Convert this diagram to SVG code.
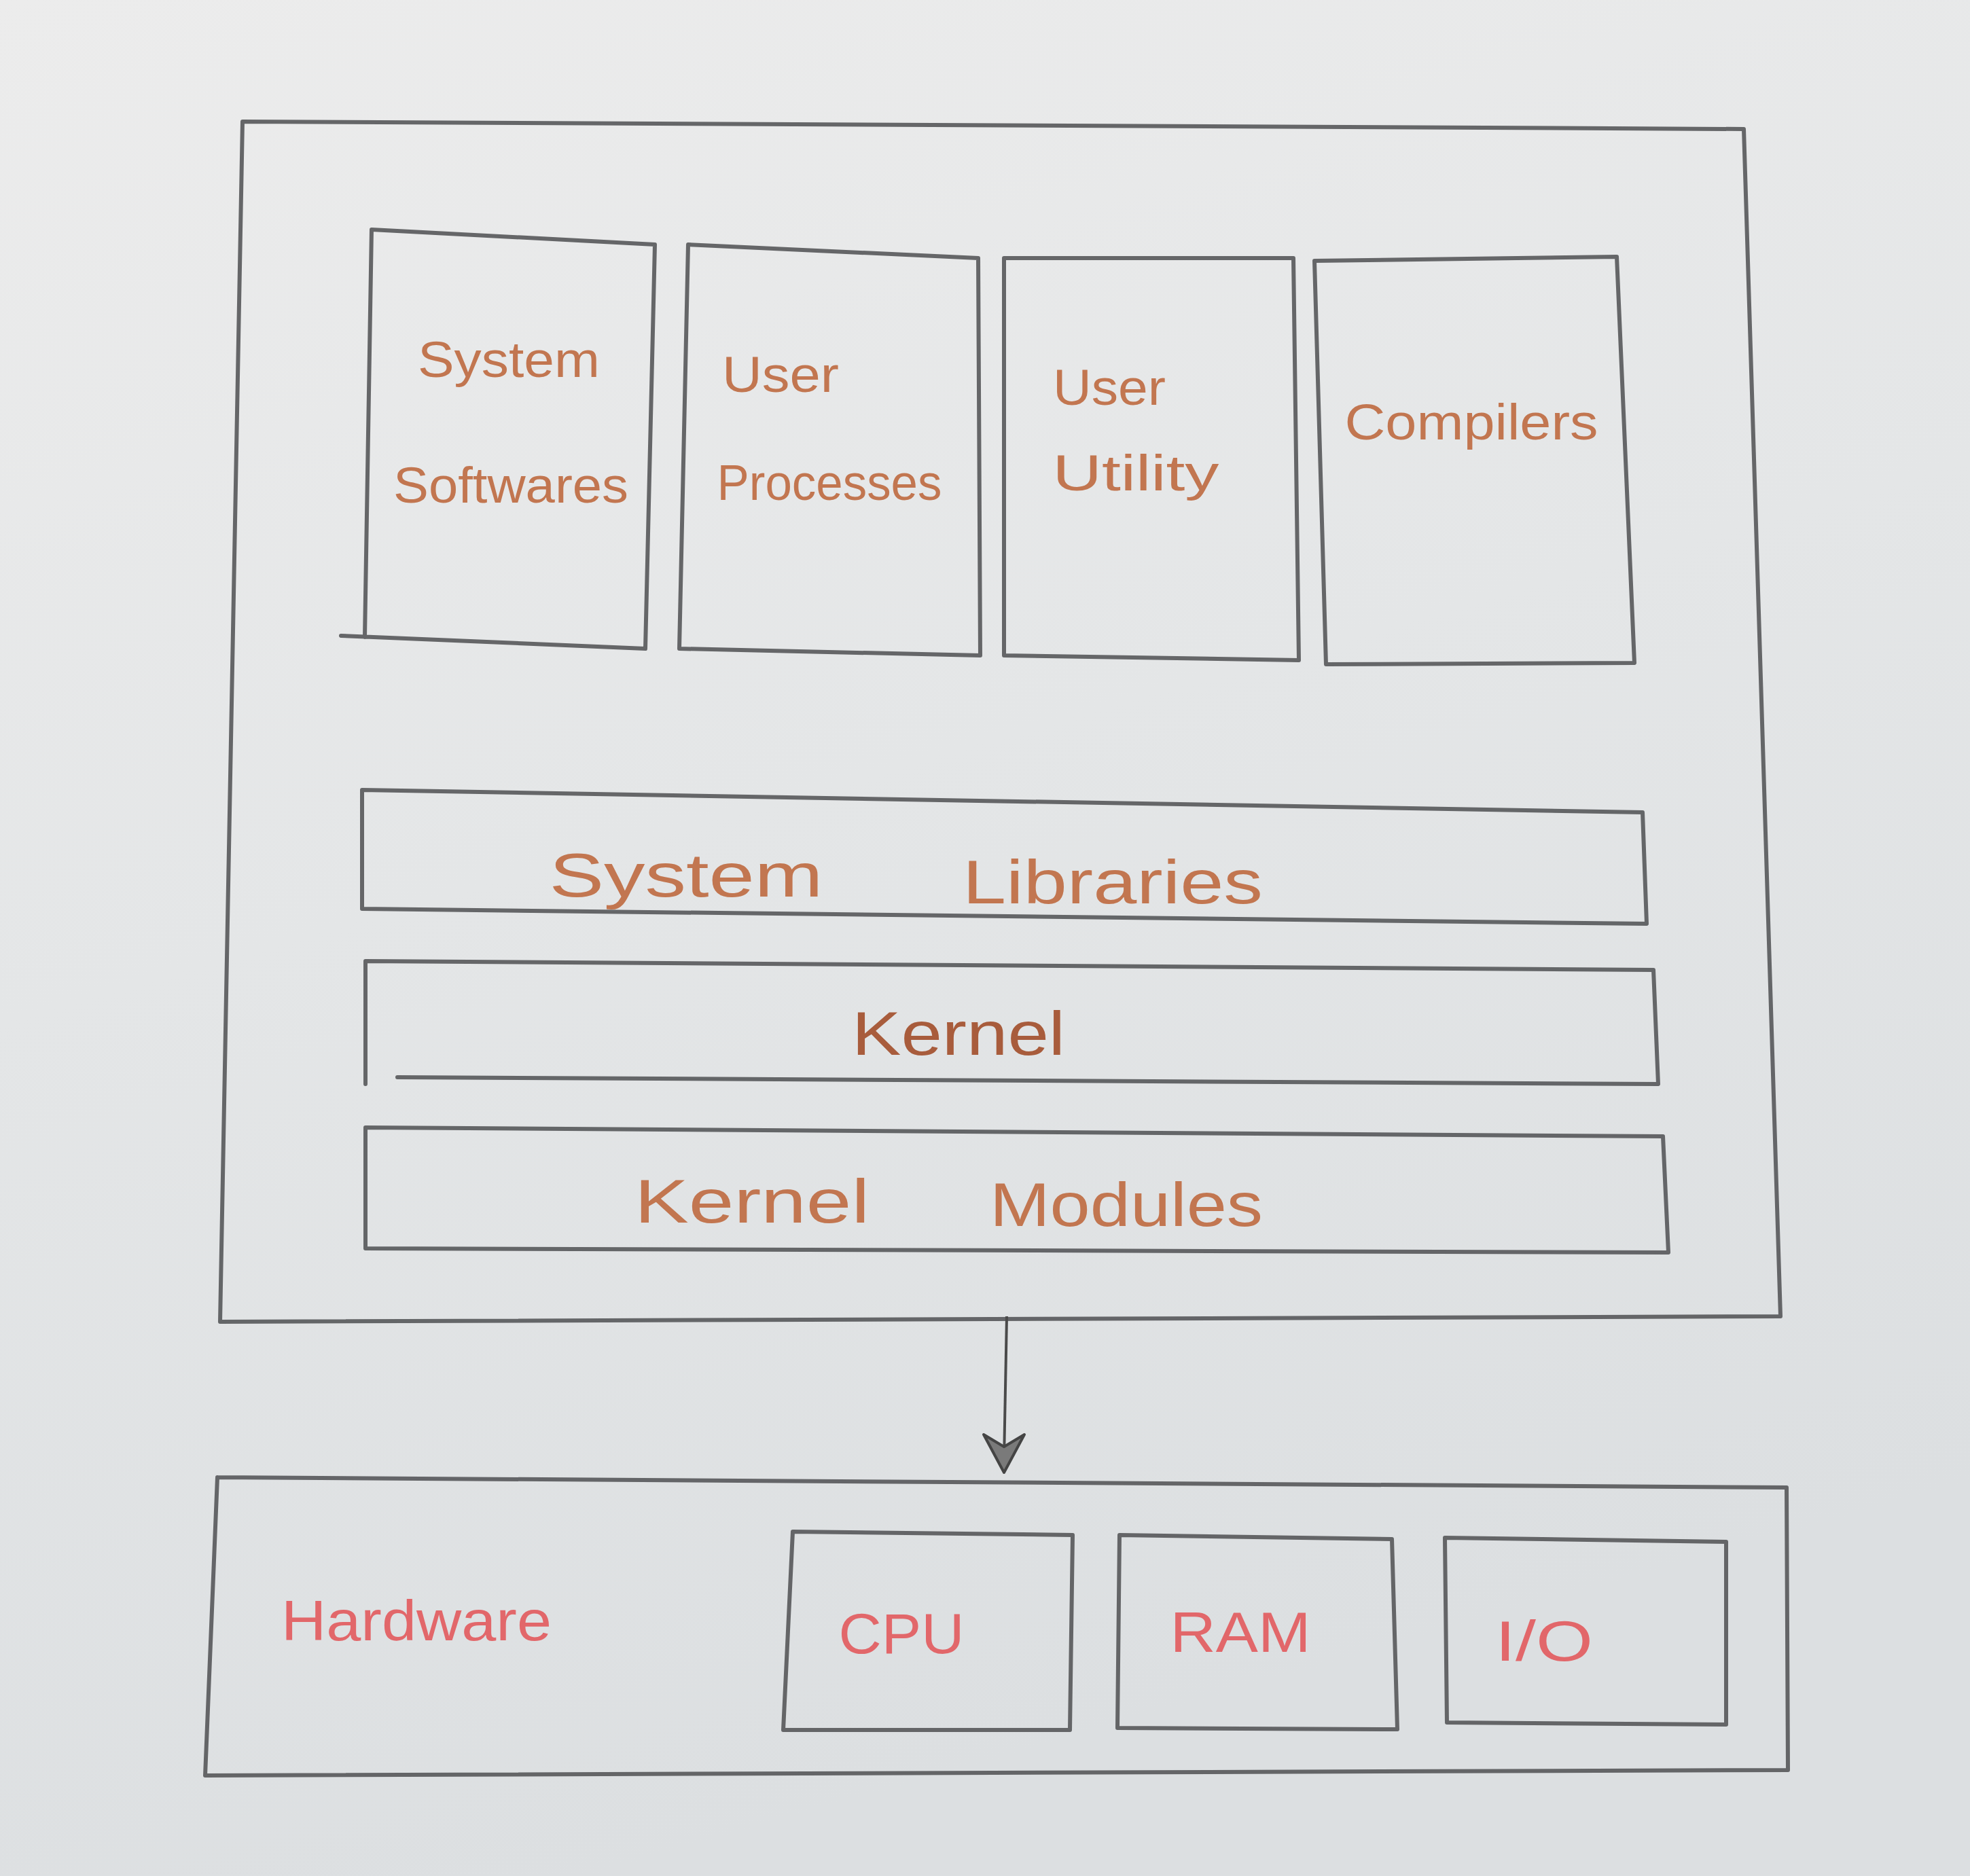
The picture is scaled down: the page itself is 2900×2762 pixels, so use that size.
<svg xmlns="http://www.w3.org/2000/svg" width="2900" height="2762" viewBox="0 0 2900 2762">
<defs>
<linearGradient id="bg" x1="0" y1="0" x2="0.3" y2="1">
<stop offset="0" stop-color="#ececec"/>
<stop offset="0.5" stop-color="#e4e6e7"/>
<stop offset="1" stop-color="#dcdfe1"/>
</linearGradient>
</defs>
<style>
.box{fill:none;stroke:#57585a;stroke-width:6;stroke-linejoin:round;stroke-linecap:round;opacity:0.9}
.edge{fill:none;stroke:#4a4a4a;stroke-width:4}
.head{fill:#7a7a7a;stroke:#444;stroke-width:4;stroke-linejoin:round}
.lbl{font-family:"Liberation Sans",Arial,sans-serif;fill:#c27650;font-size:74px}
.big{font-size:90px}
.dk{fill:#a85c3c}
.hw{font-family:"Liberation Sans",Arial,sans-serif;fill:#e2676a;font-size:84px}
</style>
<rect x="0" y="0" width="2900" height="2762" fill="url(#bg)"/>

<g id="os-frame">
<path class="box" d="M357,179 L2567,190 L2621,1938 L324,1946 Z"/>
</g>

<g id="system-softwares">
<path class="box" d="M502,936 L950,955 L964,360 L547,338 L537,938"/>
<text class="lbl" x="749" y="555" text-anchor="middle" textLength="268" lengthAdjust="spacingAndGlyphs">System</text>
<text class="lbl" x="752" y="740" text-anchor="middle" textLength="346" lengthAdjust="spacingAndGlyphs">Softwares</text>
</g>

<g id="user-processes">
<path class="box" d="M1013,360 L1440,380 L1443,965 L1000,955 Z"/>
<text class="lbl" x="1149" y="577" text-anchor="middle" textLength="172" lengthAdjust="spacingAndGlyphs">User</text>
<text class="lbl" x="1221" y="736" text-anchor="middle" textLength="331" lengthAdjust="spacingAndGlyphs">Processes</text>
</g>

<g id="user-utility">
<path class="box" d="M1478,380 L1904,380 L1912,972 L1478,965 Z"/>
<text class="lbl" x="1633" y="596" text-anchor="middle" textLength="166" lengthAdjust="spacingAndGlyphs">User</text>
<text class="lbl" x="1672" y="722" text-anchor="middle" textLength="245" lengthAdjust="spacingAndGlyphs">Utility</text>
</g>

<g id="compilers">
<path class="box" d="M1935,384 L2380,378 L2406,976 L1952,978 Z"/>
<text class="lbl" x="2166" y="647" text-anchor="middle" textLength="373" lengthAdjust="spacingAndGlyphs">Compilers</text>
</g>

<g id="system-libraries">
<path class="box" d="M533,1163 L2418,1196 L2424,1360 L533,1338 Z"/>
<text class="lbl big" x="1010" y="1320" text-anchor="middle" textLength="403" lengthAdjust="spacingAndGlyphs">System</text>
<text class="lbl big" x="1638" y="1330" text-anchor="middle" textLength="442" lengthAdjust="spacingAndGlyphs">Libraries</text>
</g>

<g id="kernel">
<path class="box" d="M538,1415 L2434,1428 L2441,1596 L585,1586 M538,1415 L538,1596"/>
<text class="lbl big dk" x="1411" y="1553" text-anchor="middle" textLength="314" lengthAdjust="spacingAndGlyphs">Kernel</text>
</g>

<g id="kernel-modules">
<path class="box" d="M538,1660 L2448,1673 L2456,1844 L538,1838 Z"/>
<text class="lbl big" x="1107" y="1800" text-anchor="middle" textLength="346" lengthAdjust="spacingAndGlyphs">Kernel</text>
<text class="lbl big" x="1658" y="1805" text-anchor="middle" textLength="402" lengthAdjust="spacingAndGlyphs">Modules</text>
</g>

<g id="hardware">
<path class="box" d="M320,2175 L2630,2190 L2632,2606 L302,2614 M320,2175 L302,2614"/>
<text class="hw" x="613" y="2415" text-anchor="middle" textLength="398" lengthAdjust="spacingAndGlyphs">Hardware</text>
</g>

<g id="cpu">
<path class="box" d="M1167,2255 L1579,2260 L1575,2547 L1153,2547 Z"/>
<text class="hw" x="1327" y="2434" text-anchor="middle" textLength="185" lengthAdjust="spacingAndGlyphs">CPU</text>
</g>

<g id="ram">
<path class="box" d="M1648,2260 L2049,2266 L2057,2546 L1645,2544 Z"/>
<text class="hw" x="1826" y="2432" text-anchor="middle" textLength="207" lengthAdjust="spacingAndGlyphs">RAM</text>
</g>

<g id="io">
<path class="box" d="M2127,2264 L2541,2270 L2541,2539 L2130,2536 Z"/>
<text class="hw" x="2273" y="2445" text-anchor="middle" textLength="144" lengthAdjust="spacingAndGlyphs">I/O</text>
</g>

<g id="connectors">
<path class="edge" d="M1482,1938 L1478,2150"/>
<path class="head" d="M1448,2112 L1478,2168 L1508,2112 L1478,2130 Z"/>
</g>
</svg>
